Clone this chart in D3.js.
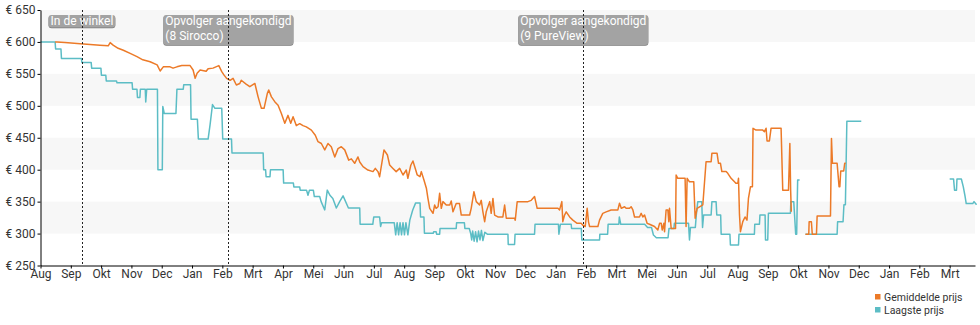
<!DOCTYPE html>
<html><head><meta charset="utf-8">
<script src="https://cdn.jsdelivr.net/npm/d3@7/dist/d3.min.js"></script>
<style>
html,body{margin:0;padding:0;background:#fff;}
svg{display:block;font-family:Roboto,"Noto Sans",sans-serif;}
</style></head>
<body>
<svg id="chart" width="980" height="325"></svg>
<script>
// ---- Data ----
const monthLabels = ["Aug","Sep","Okt","Nov","Dec","Jan","Feb","Mrt","Apr","Mei","Jun","Jul","Aug","Sep","Okt","Nov","Dec","Jan","Feb","Mrt","Mei","Jun","Jul","Aug","Sep","Okt","Nov","Dec","Jan","Feb","Mrt"];
const tickStepDays = 31.1;
const yTicks = [250,300,350,400,450,500,550,600,650];
const seriesNames = ["Gemiddelde prijs","Laagste prijs"];
const eventDays = [42.5, 192.8, 557];
const eventLabels = [["In de winkel"],["Opvolger aangekondigd","(8 Sirocco)"],["Opvolger aangekondigd","(9 PureView)"]];

// Gemiddelde prijs: [day, price]
const avgPoints = [
[15,600],[17,600],[25,599],[41,597],[61,595],[69.5,594],[71.5,599],[74.5,595],[79.7,590],[85,587],[92,582],[99,577],[105,572],[112.5,569],[119.7,564],[122.8,554.5],[126,561],[133,561],[136,559],[140,561],[145,563],[153.5,563],[156.6,556],[158.7,543],[160.7,551],[163.8,556],[170,554],[172,558],[177,559],[180,561],[183,563],[186,553.5],[188.4,548],[191,543],[194.6,540],
[197.6,543],[201,532.6],[204.5,535],[206,540],[211,534],[214.8,530],[220,535],[223.3,514],[226.7,496],[229.4,496],[232.8,519.5],[234.2,524.7],[237,514],[240.4,506.5],[243.8,501],[247.2,488],[250.7,472.6],[254,485],[256.8,472.6],[259.2,483],[262.5,469],[266,472],[269.4,469],[272.8,467],[278,462],[282,454],[284.8,443.8],[288.2,441],[291.7,431],[295,441],[298.4,436],[302,420],[305.3,433],[308.7,436],[312.2,431],[316.3,415],[319,417],[322.4,410],[325.8,420],[327.6,412],[331,404.7],[336,399.5],[341.2,397],[343.6,402],[346.3,397],[348,389],[352.5,431],[356,423],[358.3,407.3],[361.7,402],[365,397],[368.6,402],[372,391.7],[375.4,399.5],[377,386.5],[380,407],[382.2,413.6],[384.6,402],[386.6,391.7],[389.4,389],[390.8,397],[393.5,383.8],[396,371],[397.6,355],[399.4,339.5],[402.8,331.7],[404.5,344.7],[406,339.5],[408,342],[409.6,363],[411.3,339.5],[413,350],[416.4,344.7],[420,344.7],[421.5,351],[423.3,334],[426.6,347],[430,347],[431.8,329],[440.4,329],[442,339.5],[444.8,365.6],[447.2,350],[450.6,344.7],[452.3,352],[454,334],[455.8,318.6],[457.4,334],[461,350],[462.5,331.7],[464.3,355],[466,329],[469.4,326],[474.5,326],[476.3,344.7],[478,324],[486.5,324],[487.2,321],[489.2,350],[500.2,350],[503.6,352],[507,358],[509.7,339.5],[531,339.5],[532.7,337],[535,350],[536,318.6],[537.8,329],[539.5,334],[543,326],[546.3,321],[550.7,316],[554.8,316],[556.6,313],[559,311],[560,325],[561,339.5],[562.4,318],[563.5,311],[572,311],[573.7,321],[577,331.7],[580.5,334],[585.6,337],[592.5,337],[594.2,347.4],[596,339.5],[599.4,342],[601,339.5],[604.5,339.5],[606.1,342],[607.9,337],[609.6,326],[614.7,326],[616.4,331.7],[618.1,326],[619.9,329],[622.5,316],[625,314.5],[630.1,311],[633.5,305.6],[635.3,316],[637,316],[638,305.6],[639.7,316],[640.4,303],[642,337],[643.8,337],[644.8,318.6],[645.5,339.5],[647.2,308],[651.7,308],[652.3,391.7],[654,386.5],[661.5,386.5],[662.5,311],[663.6,386.5],[666,381],[670.4,381],[671.8,324],[673.8,339.5],[679.7,345],[683,412.5],[688.2,412.5],[689,425.6],[694.3,425.6],[695.8,410],[697.8,410],[699.2,397],[703.6,397],[705.3,394.3],[708.7,386.5],[712.2,381],[713.8,378.6],[715.6,378.6],[716.3,386.5],[717.3,330],[718.3,303],[720.7,318.6],[723,326],[725,321],[726.5,355],[728.6,373.4],[730.6,373.4],[731.2,464.8],[734.3,462],[741.2,462],[742.9,459.5],[744.6,464.8],[745.6,445],[748,445],[749.7,464.8],[760,464.8],[761.7,368],[767.6,368],[769,441],[769.8,368],[770.5,334],[771,null],
[785,299],[788.4,299],[788.8,318.6],[791.1,318.6],[792,299],[796.3,299],[797,327.5],[810.7,327.5],[811.7,449],[812.7,410],[817.5,410],[819.5,373.4],[820.3,373.4],[821.2,398],[824.3,398],[825.3,410],[826.4,410]
];

// Laagste prijs: [day, price]
const lowPoints = [
[0,600],[15,600],[15.5,589],[21,589],[21.5,574],[42,574],[42.5,568],[52,568],[52.5,559],[62,559],[62.5,548],[67,548],[67.5,539],[78,539],[78.5,536],[94,536],[94.5,526],[99,526],[99.5,513],[102,513],[102.5,526],[107.5,526],[108,506],[109,526],[120,526],[120.5,400],[125,400],[125.5,499],[127,488],[139,488],[140,526],[146.5,526],[147,533],[154,533],[154.5,479],[161,479],[162,448],[172,448],[174,470],[176.5,502],[179,496],[186,496],[187,448],[196,448],
[196.5,426],[228.5,426],[229,400],[231,400],[231.5,389],[235.5,389],[236,400],[249,400],[249.5,379],[259.5,379],[260,373],[266,373],[266.5,368],[273,368],[274.5,360],[276,368],[280,368],[281,358],[286.5,358],[288,350],[291.7,337],[294.3,368],[297,360],[300,355],[303.6,340],[307,350],[310.5,359],[316,340],[327.6,340],[328,314.5],[341,314.5],[342,326],[348,326],[349,311],[350,317],[363,317],[364.5,298],[366,317],[367.5,298],[369,317],[370.5,298],[372,317],[373.5,298],[375,317],[377,298],[379,321],[382,337],[385,348],[389.5,348],[390,326],[393.5,326],[394,300.5],[403,300.5],[403.5,303],[406,303],[406.5,299],[409.6,299],[410,308],[426.6,308],[427,317],[435,317],[435.5,308],[440,308],[441.5,300],[442.5,290],[443.5,304],[445,288],[446.5,303],[448,287],[449.5,304],[451,290],[452.5,305],[454,289],[456,302],[458.5,299],[479.7,299],[480,283],[486.5,283],[487,299],[507,299],[507.5,314.5],[531.5,314.5],[532,299],[533.5,314.5],[544.6,314.5],[545,308],[555,308],[555.5,290],[573.7,290],[574,299],[582,299],[582.5,314.5],[593.5,314.5],[594,326],[595.5,314.5],[620,314.5],[623,309.6],[627,309.6],[629,297.8],[632,293.5],[644,293.5],[645,308],[650,308],[650.5,316],[665,316],[666,290],[667,309.6],[672,309.6],[673,329],[674.5,350],[678.6,350],[679.4,309.6],[680.5,329],[688.2,329],[689,350],[693.3,350],[694,329],[698,329],[698.5,299],[707.5,299],[708,282],[716.3,282],[716.8,299],[732.6,299],[733,314.5],[737.8,314.5],[738.3,329],[743.6,329],[744,290],[746.3,290],[747,331.7],[769.6,331.7],[770,350],[773,350],[775,299],[776,299],[777,384],[779,384],[779.5,null],
[785,299],[817.5,299],[818,318.6],[823.6,318.6],[824.5,345],[826,345],[827.5,476],[842.3,476],[843,null],
[933,385.4],[937,385.4],[938,368],[940,368],[940.5,385.4],[945,385.4],[947,373],[948.6,360],[950,347],[956.7,347],[958,350],[960.6,345]
];

const colors = ["#ec7a28","#5cbdc5"];

// ---- Layout ----
const svg = d3.select("#chart");
const plotLeft = 40.5, plotRight = 975, plotTop = 10, plotBottom = 265.5;
const x = d3.scaleLinear().domain([0, 959]).range([plotLeft, plotRight]);
const y = d3.scaleLinear().domain([250, 650]).range([plotBottom, plotTop]);

// alternating bands
const bandStarts = yTicks.filter((v,i) => i < yTicks.length-1 && i % 2 === 1);
svg.append("g").selectAll("rect").data(bandStarts).join("rect")
  .attr("x", plotLeft).attr("width", plotRight - plotLeft)
  .attr("y", d => y(d + 50)).attr("height", d => y(d) - y(d + 50))
  .attr("fill", "#f7f7f7");

// lines
const line = d3.line()
  .defined(d => d[1] != null)
  .x(d => x(d[0])).y(d => y(d[1]));

svg.append("path").datum(lowPoints).attr("d", line)
  .attr("fill","none").attr("stroke",colors[1]).attr("stroke-width",1.5).attr("stroke-linejoin","round");
svg.append("path").datum(avgPoints).attr("d", line)
  .attr("fill","none").attr("stroke",colors[0]).attr("stroke-width",1.5).attr("stroke-linejoin","round");

// axes
const yAxis = d3.axisLeft(y).tickValues(yTicks).tickFormat(d => "€ " + d).tickSize(3).tickSizeOuter(0).tickPadding(2);
const gy = svg.append("g").attr("transform", `translate(${plotLeft},0)`).call(yAxis);
const xAxis = d3.axisBottom(x).tickValues(monthLabels.map((m,i) => i * tickStepDays))
  .tickFormat((d,i) => monthLabels[i]).tickSize(3).tickSizeOuter(0).tickPadding(1);
const gx = svg.append("g").attr("transform", `translate(0,${plotBottom})`).call(xAxis);
[gx, gy].forEach(g => {
  g.selectAll("text").attr("font-size", 12).attr("fill", "#333").attr("font-family","Roboto");
  g.select(".domain").attr("stroke", "#000");
  g.selectAll(".tick line").attr("stroke", "#000");
});

// annotations
const ann = svg.append("g");
eventDays.forEach((d, i) => {
  const lines = eventLabels[i];
  const g = ann.append("g");
  const shadow = g.append("rect");
  const box = g.append("rect");
  const t = g.append("text").attr("font-size", 12).attr("fill", "#fff").attr("font-family","Roboto");
  lines.forEach((l, j) => t.append("tspan").attr("x", 0).attr("y", 24.5 + j * 15).text(l));
  const w = t.node().getBBox().width + 4;
  const cx = x(d);
  const left = cx - w / 2;
  t.attr("transform", `translate(${left + 2},0)`);
  const h = lines.length === 1 ? 12.5 : 30;
  shadow.attr("x", left).attr("y", 15.8).attr("width", w).attr("height", h).attr("rx", 3).attr("fill", "#7a7a7a");
  box.attr("x", left).attr("y", 15).attr("width", w).attr("height", h).attr("rx", 3).attr("fill", "#a3a3a3");
});
svg.append("g").selectAll("line").data(eventDays).join("line")
  .attr("x1", d => Math.round(x(d)) + 0.5).attr("x2", d => Math.round(x(d)) + 0.5)
  .attr("y1", 10).attr("y2", plotBottom)
  .attr("stroke", "#222").attr("stroke-width", 1).attr("stroke-dasharray", "2,2");

// legend
const leg = svg.append("g").attr("transform", "translate(875,294)");
seriesNames.forEach((n, i) => {
  leg.append("rect").attr("x", 0).attr("y", i * 13).attr("width", 5.5).attr("height", 5.5).attr("fill", colors[i]);
  leg.append("text").attr("x", 9).attr("y", i * 13 + 6.5).attr("font-size", 10.5).attr("fill", "#333").attr("font-family","Roboto").text(n);
});
</script>
</body></html>
